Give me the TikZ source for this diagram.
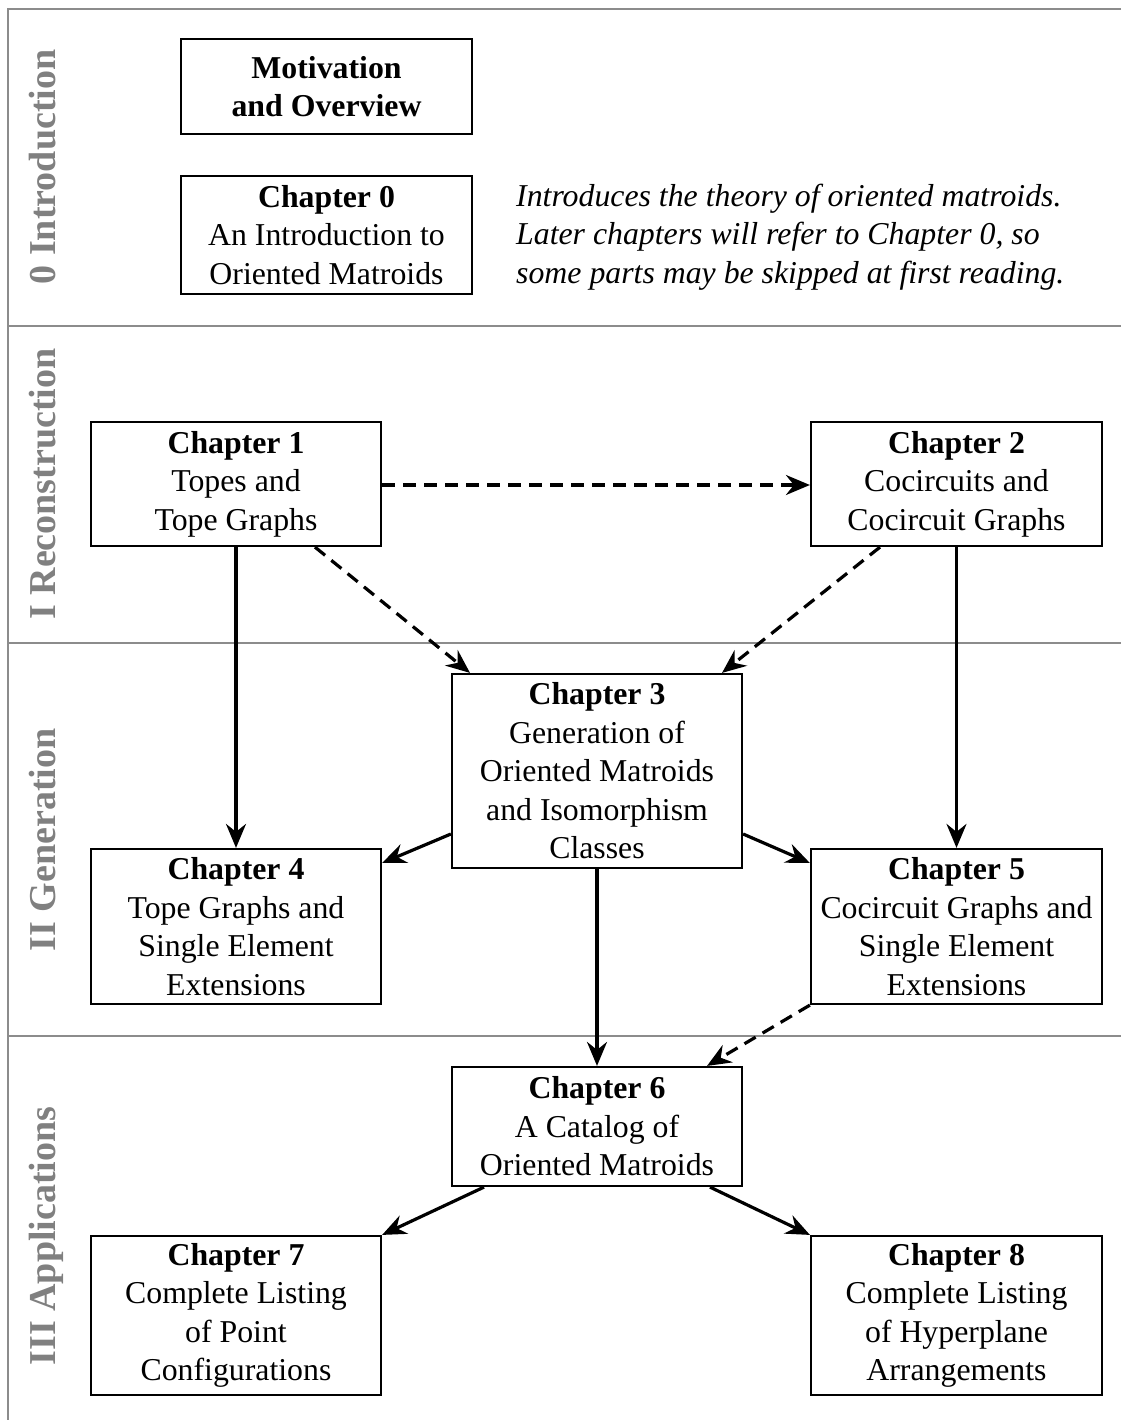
\documentclass[tikz,border=0pt]{standalone}
\usepackage{fontspec}
\setmainfont{Liberation Serif}
\usetikzlibrary{arrows.meta}
\definecolor{bandgray}{RGB}{140,140,140}
\definecolor{labgray}{RGB}{128,128,128}
\begin{document}
\begin{tikzpicture}[x=1pt,y=-1pt,
  chap/.style={draw=black, line width=2.2pt, inner sep=0pt, align=center,
    font=\fontsize{31.8}{38.5}\selectfont},
  band/.style={draw=bandgray, line width=2pt},
  bandlabel/.style={rotate=90, anchor=base, text=labgray,
    font=\fontsize{38}{44}\selectfont\bfseries},
  arr/.style={line width=3.2pt, -{Stealth[length=24pt,width=20pt,inset=8pt]}},
  darr/.style={arr, dash pattern=on 13pt off 8pt}]
\useasboundingbox (0,0) rectangle (1121,1420);
% frame
\draw[band] (1121,9) -- (8,9) -- (8,1420);
\draw[band] (8,326) -- (1121,326);
\draw[band] (8,643) -- (1121,643);
\draw[band] (8,1036) -- (1121,1036);
% band labels
\node[bandlabel] (l0) at (55,167) {0 Introduction};
\node[bandlabel] (l1) at (55,484) {I Reconstruction};
\node[bandlabel] (l2) at (55,840) {II Generation};
\node[bandlabel] (l3) at (55,1236) {III Applications};
% boxes
\node[chap, minimum width=291pt, minimum height=95pt] (mot) at (326.5,86.5)
  {\textbf{Motivation}\\\textbf{and Overview}};
\node[chap, minimum width=291pt, minimum height=118pt] (c0) at (326.5,235)
  {\textbf{Chapter 0}\\An Introduction to\\Oriented Matroids};
\node[anchor=west, inner sep=0pt, align=left, font=\fontsize{31.8}{38.5}\selectfont\itshape] (note) at (516,237)
  {Introduces the theory of oriented matroids.\\Later chapters will refer to Chapter 0, so\\some parts may be skipped at first reading.};
\node[chap, minimum width=290pt, minimum height=124pt] (c1) at (236,484)
  {\textbf{Chapter 1}\\Topes and\\Tope Graphs};
\node[chap, minimum width=291pt, minimum height=124pt] (c2) at (956.5,484)
  {\textbf{Chapter 2}\\Cocircuits and\\Cocircuit Graphs};
\node[chap, minimum width=290pt, minimum height=194pt] (c3) at (597,771)
  {\textbf{Chapter 3}\\Generation of\\Oriented Matroids\\and Isomorphism\\Classes};
\node[chap, minimum width=290pt, minimum height=155pt] (c4) at (236,926.5)
  {\textbf{Chapter 4}\\Tope Graphs and\\Single Element\\Extensions};
\node[chap, minimum width=291pt, minimum height=155pt] (c5) at (956.5,926.5)
  {\textbf{Chapter 5}\\Cocircuit Graphs and\\Single Element\\Extensions};
\node[chap, minimum width=290pt, minimum height=119pt] (c6) at (597,1126.5)
  {\textbf{Chapter 6}\\A Catalog of\\Oriented Matroids};
\node[chap, minimum width=290pt, minimum height=159pt] (c7) at (236,1315.5)
  {\textbf{Chapter 7}\\Complete Listing\\of Point\\Configurations};
\node[chap, minimum width=291pt, minimum height=159pt] (c8) at (956.5,1315.5)
  {\textbf{Chapter 8}\\Complete Listing\\of Hyperplane\\Arrangements};
% connectors
\draw[darr] (c1.east |- 0,485) -- (c2.west |- 0,485);
\draw[darr] (c1.south -| 315,0) -- (c3.north -| 470,0);
\draw[darr] (c2.south -| 880,0) -- (c3.north -| 722,0);
\draw[arr] (c1.south) -- (c4.north);
\draw[arr] (c2.south) -- (c5.north);
\draw[arr] (c3.west |- 0,834) -- (c4.east |- 0,863);
\draw[arr] (c3.east |- 0,834) -- (c5.west |- 0,863);
\draw[arr] (c3.south) -- (c6.north);
\draw[darr] (c5.south west) -- (c6.north -| 707,0);
\draw[arr] (c6.south -| 484,0) -- (c7.north east);
\draw[arr] (c6.south -| 710,0) -- (c8.north west);
\end{tikzpicture}
\end{document}
